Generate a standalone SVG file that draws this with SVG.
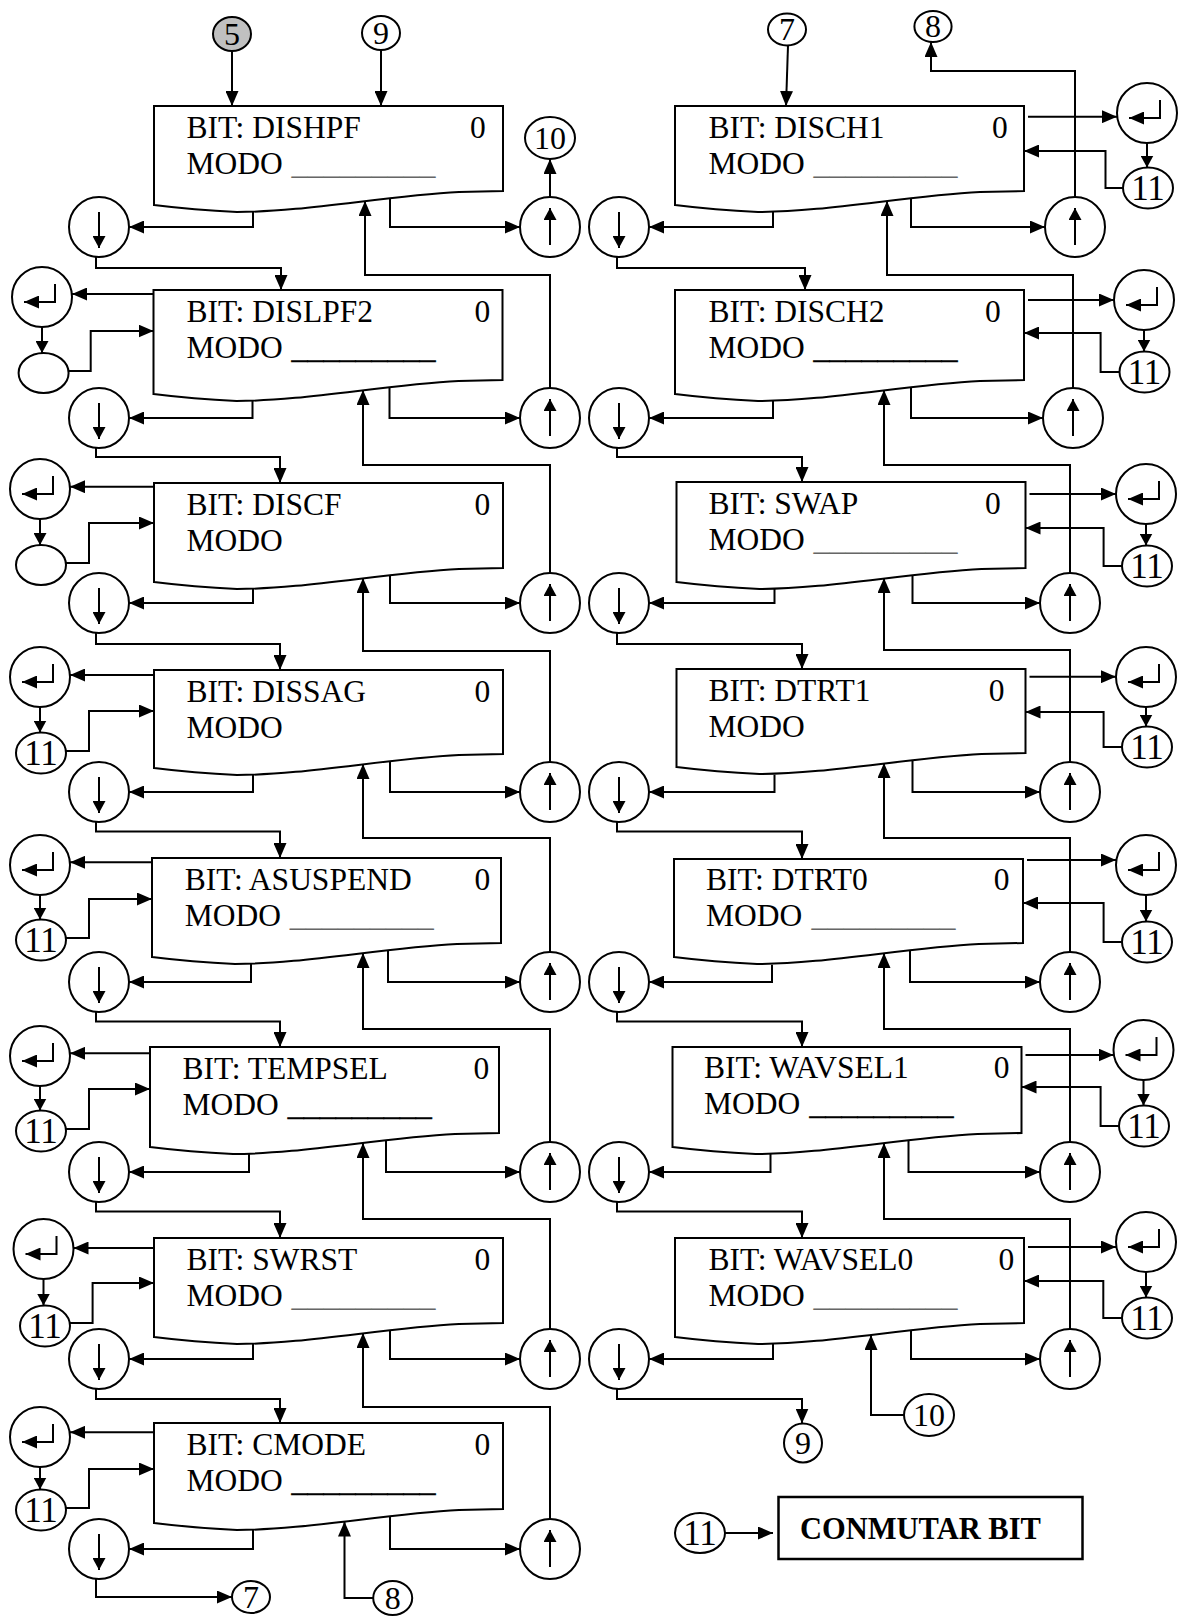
<svg xmlns="http://www.w3.org/2000/svg" width="1178" height="1617" viewBox="0 0 1178 1617">
<style>
.ln{fill:none;stroke:#000;stroke-width:2}
.a{marker-end:url(#ah)}
.as{marker-end:url(#ahs)}
.bx{fill:#fff;stroke:#000;stroke-width:2}
.ci{fill:#fff;stroke:#000;stroke-width:2}
.t{font-family:"Liberation Serif","Times New Roman",serif;font-size:31.5px;fill:#000}
.u{font-family:"Liberation Serif","Times New Roman",serif;font-size:31.5px}
.thin{fill:#666}
.thick{fill:#000;stroke:#000;stroke-width:0.5}
.n{font-family:"Liberation Serif","Times New Roman",serif;font-size:32px;text-anchor:middle;fill:#000}
.n10{font-size:32px}
.n11{font-size:35px}
.lg{font-family:"Liberation Serif","Times New Roman",serif;font-size:30.5px;font-weight:bold;fill:#000}
</style>
<defs>
<marker id="ah" viewBox="0 0 15 13" refX="15" refY="6.5" markerWidth="15" markerHeight="13" orient="auto" markerUnits="userSpaceOnUse"><path d="M0,0 L15,6.5 L0,13 Z" fill="#000"/></marker>
<marker id="ahs" viewBox="0 0 12 13" refX="12" refY="6.5" markerWidth="12" markerHeight="13" orient="auto" markerUnits="userSpaceOnUse"><path d="M0,0 L12,6.5 L0,13 Z" fill="#000"/></marker>
</defs>
<rect x="0" y="0" width="1178" height="1617" fill="#fff"/>

<g id="connectors">
<path class="ln a" d="M232,51 V106"/>
<path class="ln a" d="M381,50 V106"/>
<path class="ln a" d="M788,45.5 L786,106"/>
<path class="ln a" d="M550,197 V159"/>
<path class="ln a" d="M1075,197 V71 H931 V42"/>
<path class="ln a" d="M253,211.7 V227 H129"/>
<path class="ln a" d="M390,198 V227 H520"/>
<path class="ln a" d="M252.5,400.7 V418 H129"/>
<path class="ln a" d="M389.5,387 V418 H520"/>
<path class="ln a" d="M253,588.7 V603 H129"/>
<path class="ln a" d="M390,575 V603 H520"/>
<path class="ln a" d="M253,774.7 V792 H129"/>
<path class="ln a" d="M390,761 V792 H520"/>
<path class="ln a" d="M251,963.7 V982 H129"/>
<path class="ln a" d="M388,950 V982 H520"/>
<path class="ln a" d="M249,1153.7 V1172 H129"/>
<path class="ln a" d="M386,1140 V1172 H520"/>
<path class="ln a" d="M253,1343.7 V1359 H129"/>
<path class="ln a" d="M390,1330 V1359 H520"/>
<path class="ln a" d="M253,1529.7 V1549 H129"/>
<path class="ln a" d="M390,1516 V1549 H520"/>
<path class="ln a" d="M96,257 V268 H281 V290"/>
<path class="ln a" d="M96,448 V457 H280 V483"/>
<path class="ln a" d="M96,633 V644 H280 V670"/>
<path class="ln a" d="M96,822 V831.5 H280 V858"/>
<path class="ln a" d="M96,1012 V1021.5 H280 V1047"/>
<path class="ln a" d="M96,1202 V1211.5 H280 V1238"/>
<path class="ln a" d="M96,1389 V1399 H280 V1423"/>
<path class="ln a" d="M96,1579 V1597 H232"/>
<path class="ln a" d="M550,388 V275 H365 V201"/>
<path class="ln a" d="M550,573 V465 H363 V390"/>
<path class="ln a" d="M550,762 V651 H363 V578"/>
<path class="ln a" d="M550,952 V838 H363 V764"/>
<path class="ln a" d="M550,1142 V1029 H363 V953"/>
<path class="ln a" d="M550,1329 V1219 H363 V1143"/>
<path class="ln a" d="M550,1519 V1407 H363 V1333"/>
<path class="ln a" d="M373,1598 H344.5 V1521.5"/>
<path class="ln a" d="M153.5,294 H72"/>
<path class="ln as" d="M42,327 V353"/>
<path class="ln a" d="M68.6,371 H90.7 V331 H153.5"/>
<path class="ln a" d="M154,486.7 H70"/>
<path class="ln as" d="M40,519 V545"/>
<path class="ln a" d="M66,563 H89 V523 H154"/>
<path class="ln a" d="M154,675 H70"/>
<path class="ln as" d="M40,707 V732.5"/>
<path class="ln a" d="M66,751 H89 V711 H154"/>
<path class="ln a" d="M152,862.3 H70"/>
<path class="ln as" d="M40,895 V919.5"/>
<path class="ln a" d="M66,938 H89 V899 H152"/>
<path class="ln a" d="M150,1053.3 H70"/>
<path class="ln as" d="M40,1086 V1110.5"/>
<path class="ln a" d="M66,1129 H89 V1089 H150"/>
<path class="ln a" d="M154,1248 H73.5"/>
<path class="ln as" d="M43.5,1279 V1305.5"/>
<path class="ln a" d="M70,1323 H92.6 V1283 H154"/>
<path class="ln a" d="M154,1432.3 H70"/>
<path class="ln as" d="M40,1467 V1489.5"/>
<path class="ln a" d="M66,1508 H89 V1469 H154"/>
<path class="ln a" d="M773,211.7 V227 H649"/>
<path class="ln a" d="M911,198 V227 H1045"/>
<path class="ln a" d="M773,400.7 V418 H649"/>
<path class="ln a" d="M911,387 V418 H1043"/>
<path class="ln a" d="M774.5,588.7 V603 H649"/>
<path class="ln a" d="M912.5,575 V603 H1040"/>
<path class="ln a" d="M774.5,774.7 V792 H649"/>
<path class="ln a" d="M912.5,760 V792 H1040"/>
<path class="ln a" d="M772,964.7 V982 H649"/>
<path class="ln a" d="M910,950 V982 H1040"/>
<path class="ln a" d="M770.5,1153.7 V1172 H649"/>
<path class="ln a" d="M908.5,1140 V1172 H1040"/>
<path class="ln a" d="M773,1343.7 V1359 H649"/>
<path class="ln a" d="M911,1330 V1359 H1040"/>
<path class="ln a" d="M617,257 V268 H805 V290"/>
<path class="ln a" d="M617,448 V457 H802 V482"/>
<path class="ln a" d="M617,633 V644 H802 V669"/>
<path class="ln a" d="M617,822 V831.5 H802 V859"/>
<path class="ln a" d="M617,1012 V1021.5 H802 V1047"/>
<path class="ln a" d="M617,1202 V1211.5 H802 V1238"/>
<path class="ln a" d="M617,1389 V1399 H802 V1423.5"/>
<path class="ln a" d="M1073,388 V275 H887 V201"/>
<path class="ln a" d="M1070,573 V465 H884 V390"/>
<path class="ln a" d="M1070,762 V650 H884 V578"/>
<path class="ln a" d="M1070,952 V838 H884 V763"/>
<path class="ln a" d="M1070,1142 V1029 H884 V953"/>
<path class="ln a" d="M1070,1329 V1219 H884 V1143"/>
<path class="ln a" d="M904,1415 H871 V1335"/>
<path class="ln a" d="M1028,116.7 H1117"/>
<path class="ln as" d="M1147,143 V167.5"/>
<path class="ln a" d="M1123,188 H1105.5 V151 H1024"/>
<path class="ln a" d="M1028,300 H1114"/>
<path class="ln as" d="M1144,330 V351.5"/>
<path class="ln a" d="M1119.5,372 H1100.6 V333 H1024"/>
<path class="ln a" d="M1029.5,494 H1116"/>
<path class="ln as" d="M1146,524 V545.5"/>
<path class="ln a" d="M1122,566 H1103.6 V528 H1025.5"/>
<path class="ln a" d="M1029.5,676.7 H1116"/>
<path class="ln as" d="M1146,707 V726.5"/>
<path class="ln a" d="M1122,747 H1103.6 V712 H1025.5"/>
<path class="ln a" d="M1027,860 H1116"/>
<path class="ln as" d="M1146,895 V921.5"/>
<path class="ln a" d="M1122,942 H1103.6 V903 H1023"/>
<path class="ln a" d="M1025.5,1055 H1113.5"/>
<path class="ln as" d="M1143.5,1080 V1105.5"/>
<path class="ln a" d="M1119,1126 H1100.6 V1087 H1021.5"/>
<path class="ln a" d="M1028,1247 H1116"/>
<path class="ln as" d="M1146,1272 V1297.5"/>
<path class="ln a" d="M1122,1318 H1103.3 V1281 H1024"/>
<path class="ln a" d="M725,1533 H773"/>
</g>

<g id="box-dishpf">
<path class="bx" d="M154,106 H503 V191 L459,192 C384,196 304,212 237,212 Q194,210 154,205 Z"/>
<text class="t" x="186.4" y="138">BIT: DISHPF</text><text class="t" x="470" y="138">0</text>
<text class="t" x="186.4" y="174">MODO</text><text class="u thin" x="291.6" y="174" textLength="144" lengthAdjust="spacingAndGlyphs">_________</text>
</g>
<g id="box-dislpf2">
<path class="bx" d="M153.5,290 H502.5 V380 L458.5,381 C383.5,385 303.5,401 236.5,401 Q193.5,399 153.5,394 Z"/>
<text class="t" x="186.4" y="322">BIT: DISLPF2</text><text class="t" x="474.5" y="322">0</text>
<text class="t" x="186.4" y="358">MODO</text><text class="u thick" x="291.6" y="358" textLength="144" lengthAdjust="spacingAndGlyphs">_________</text>
</g>
<g id="box-discf">
<path class="bx" d="M154,483 H503 V568 L459,569 C384,573 304,589 237,589 Q194,587 154,582 Z"/>
<text class="t" x="186.4" y="515">BIT: DISCF</text><text class="t" x="474.5" y="515">0</text>
<text class="t" x="186.4" y="551">MODO</text>
</g>
<g id="box-dissag">
<path class="bx" d="M154,670 H503 V754 L459,755 C384,759 304,775 237,775 Q194,773 154,768 Z"/>
<text class="t" x="186.4" y="702">BIT: DISSAG</text><text class="t" x="474.5" y="702">0</text>
<text class="t" x="186.4" y="738">MODO</text>
</g>
<g id="box-asuspend">
<path class="bx" d="M152,858 H501 V943 L457,944 C382,948 302,964 235,964 Q192,962 152,957 Z"/>
<text class="t" x="184.8" y="890">BIT: ASUSPEND</text><text class="t" x="474.5" y="890">0</text>
<text class="t" x="184.8" y="926">MODO</text><text class="u thin" x="289.7" y="926" textLength="144" lengthAdjust="spacingAndGlyphs">_________</text>
</g>
<g id="box-tempsel">
<path class="bx" d="M150,1047 H499 V1133 L455,1134 C380,1138 300,1154 233,1154 Q190,1152 150,1147 Z"/>
<text class="t" x="182.5" y="1079">BIT: TEMPSEL</text><text class="t" x="473.4" y="1079">0</text>
<text class="t" x="182.5" y="1115">MODO</text><text class="u thick" x="287.8" y="1115" textLength="144" lengthAdjust="spacingAndGlyphs">_________</text>
</g>
<g id="box-swrst">
<path class="bx" d="M154,1238 H503 V1323 L459,1324 C384,1328 304,1344 237,1344 Q194,1342 154,1337 Z"/>
<text class="t" x="186.4" y="1270">BIT: SWRST</text><text class="t" x="474.5" y="1270">0</text>
<text class="t" x="186.4" y="1306">MODO</text><text class="u thin" x="291.6" y="1306" textLength="144" lengthAdjust="spacingAndGlyphs">_________</text>
</g>
<g id="box-cmode">
<path class="bx" d="M154,1423 H503 V1509 L459,1510 C384,1514 304,1530 237,1530 Q194,1528 154,1523 Z"/>
<text class="t" x="186.4" y="1455">BIT: CMODE</text><text class="t" x="474.5" y="1455">0</text>
<text class="t" x="186.4" y="1491">MODO</text><text class="u thick" x="291.6" y="1491" textLength="144" lengthAdjust="spacingAndGlyphs">_________</text>
</g>

<g id="box-disch1">
<path class="bx" d="M675,106 H1024 V191 L980,192 C905,196 825,212 758,212 Q715,210 675,205 Z"/>
<text class="t" x="708.5" y="138">BIT: DISCH1</text><text class="t" x="991.9" y="138">0</text>
<text class="t" x="708.5" y="174">MODO</text><text class="u thin" x="813.4" y="174" textLength="144" lengthAdjust="spacingAndGlyphs">_________</text>
</g>
<g id="box-disch2">
<path class="bx" d="M675,290 H1024 V380 L980,381 C905,385 825,401 758,401 Q715,399 675,394 Z"/>
<text class="t" x="708.5" y="322">BIT: DISCH2</text><text class="t" x="985" y="322">0</text>
<text class="t" x="708.5" y="358">MODO</text><text class="u thick" x="813.4" y="358" textLength="144" lengthAdjust="spacingAndGlyphs">_________</text>
</g>
<g id="box-swap">
<path class="bx" d="M676.5,482 H1025.5 V568 L981.5,569 C906.5,573 826.5,589 759.5,589 Q716.5,587 676.5,582 Z"/>
<text class="t" x="708.5" y="514">BIT: SWAP</text><text class="t" x="985" y="514">0</text>
<text class="t" x="708.5" y="550">MODO</text><text class="u thin" x="813.4" y="550" textLength="144" lengthAdjust="spacingAndGlyphs">_________</text>
</g>
<g id="box-dtrt1">
<path class="bx" d="M676.5,669 H1025.5 V753 L981.5,754 C906.5,758 826.5,774 759.5,774 Q716.5,772 676.5,767 Z"/>
<text class="t" x="708.5" y="701">BIT: DTRT1</text><text class="t" x="988.8" y="701">0</text>
<text class="t" x="708.5" y="737">MODO</text>
</g>
<g id="box-dtrt0">
<path class="bx" d="M674,859 H1023 V943 L979,944 C904,948 824,964 757,964 Q714,962 674,957 Z"/>
<text class="t" x="705.9" y="890">BIT: DTRT0</text><text class="t" x="993.8" y="890">0</text>
<text class="t" x="705.9" y="926">MODO</text><text class="u thin" x="811.5" y="926" textLength="144" lengthAdjust="spacingAndGlyphs">_________</text>
</g>
<g id="box-wavsel1">
<path class="bx" d="M672.5,1047 H1021.5 V1133 L977.5,1134 C902.5,1138 822.5,1154 755.5,1154 Q712.5,1152 672.5,1147 Z"/>
<text class="t" x="704" y="1078">BIT: WAVSEL1</text><text class="t" x="993.8" y="1078">0</text>
<text class="t" x="704" y="1114">MODO</text><text class="u thick" x="809.6" y="1114" textLength="144" lengthAdjust="spacingAndGlyphs">_________</text>
</g>
<g id="box-wavsel0">
<path class="bx" d="M675,1238 H1024 V1323 L980,1324 C905,1328 825,1344 758,1344 Q715,1342 675,1337 Z"/>
<text class="t" x="708.5" y="1270">BIT: WAVSEL0</text><text class="t" x="998.4" y="1270">0</text>
<text class="t" x="708.5" y="1306">MODO</text><text class="u thin" x="813.4" y="1306" textLength="144" lengthAdjust="spacingAndGlyphs">_________</text>
</g>

<g id="c5"><ellipse cx="232" cy="34" rx="19" ry="17" fill="#c0c0c0" stroke="#000" stroke-width="2"/><text class="n" x="232" y="44.8">5</text></g>
<g id="c9-top"><ellipse class="ci" cx="381" cy="33" rx="19" ry="17"/><text class="n" x="381" y="43.8">9</text></g>
<g id="c10-top"><ellipse class="ci" cx="550" cy="138" rx="25" ry="21"/><text class="n n10" x="550" y="148.8">10</text></g>
<g id="c7-top"><ellipse class="ci" cx="787" cy="29.5" rx="19" ry="16"/><text class="n" x="787" y="40.3">7</text></g>
<g id="c8-top"><ellipse class="ci" cx="933" cy="26.5" rx="18.6" ry="15.5"/><text class="n" x="933" y="37.3">8</text></g>
<g id="c7-bottom"><ellipse class="ci" cx="251" cy="1597" rx="19" ry="16"/><text class="n" x="251" y="1607.8">7</text></g>
<g id="c8-bottom"><ellipse class="ci" cx="392.7" cy="1598" rx="19.5" ry="17"/><text class="n" x="392.7" y="1608.8">8</text></g>
<g id="c9-bottom"><ellipse class="ci" cx="803" cy="1443" rx="19" ry="19.5"/><text class="n" x="803" y="1453.8">9</text></g>
<g id="c10-bottom"><ellipse class="ci" cx="929" cy="1415" rx="25" ry="21"/><text class="n n10" x="929" y="1425.8">10</text></g>

<g id="down-l1"><circle class="ci" cx="99" cy="227" r="30"/><path class="ln as" d="M99,212 V248"/></g>
<g id="down-l2"><circle class="ci" cx="99" cy="418" r="30"/><path class="ln as" d="M99,403 V439"/></g>
<g id="down-l3"><circle class="ci" cx="99" cy="603" r="30"/><path class="ln as" d="M99,588 V624"/></g>
<g id="down-l4"><circle class="ci" cx="99" cy="792" r="30"/><path class="ln as" d="M99,777 V813"/></g>
<g id="down-l5"><circle class="ci" cx="99" cy="982" r="30"/><path class="ln as" d="M99,967 V1003"/></g>
<g id="down-l6"><circle class="ci" cx="99" cy="1172" r="30"/><path class="ln as" d="M99,1157 V1193"/></g>
<g id="down-l7"><circle class="ci" cx="99" cy="1359" r="30"/><path class="ln as" d="M99,1344 V1380"/></g>
<g id="down-l8"><circle class="ci" cx="99" cy="1549" r="30"/><path class="ln as" d="M99,1534 V1570"/></g>
<g id="up-l1"><circle class="ci" cx="550" cy="227" r="30"/><path class="ln as" d="M550,245 V208"/></g>
<g id="up-l2"><circle class="ci" cx="550" cy="418" r="30"/><path class="ln as" d="M550,436 V399"/></g>
<g id="up-l3"><circle class="ci" cx="550" cy="603" r="30"/><path class="ln as" d="M550,621 V584"/></g>
<g id="up-l4"><circle class="ci" cx="550" cy="792" r="30"/><path class="ln as" d="M550,810 V773"/></g>
<g id="up-l5"><circle class="ci" cx="550" cy="982" r="30"/><path class="ln as" d="M550,1000 V963"/></g>
<g id="up-l6"><circle class="ci" cx="550" cy="1172" r="30"/><path class="ln as" d="M550,1190 V1153"/></g>
<g id="up-l7"><circle class="ci" cx="550" cy="1359" r="30"/><path class="ln as" d="M550,1377 V1340"/></g>
<g id="up-l8"><circle class="ci" cx="550" cy="1549" r="30"/><path class="ln as" d="M550,1567 V1530"/></g>
<g id="down-r1"><circle class="ci" cx="619" cy="227" r="30"/><path class="ln as" d="M619,212 V248"/></g>
<g id="down-r2"><circle class="ci" cx="619" cy="418" r="30"/><path class="ln as" d="M619,403 V439"/></g>
<g id="down-r3"><circle class="ci" cx="619" cy="603" r="30"/><path class="ln as" d="M619,588 V624"/></g>
<g id="down-r4"><circle class="ci" cx="619" cy="792" r="30"/><path class="ln as" d="M619,777 V813"/></g>
<g id="down-r5"><circle class="ci" cx="619" cy="982" r="30"/><path class="ln as" d="M619,967 V1003"/></g>
<g id="down-r6"><circle class="ci" cx="619" cy="1172" r="30"/><path class="ln as" d="M619,1157 V1193"/></g>
<g id="down-r7"><circle class="ci" cx="619" cy="1359" r="30"/><path class="ln as" d="M619,1344 V1380"/></g>
<g id="up-r1"><circle class="ci" cx="1075" cy="227" r="30"/><path class="ln as" d="M1075,245 V208"/></g>
<g id="up-r2"><circle class="ci" cx="1073" cy="418" r="30"/><path class="ln as" d="M1073,436 V399"/></g>
<g id="up-r3"><circle class="ci" cx="1070" cy="603" r="30"/><path class="ln as" d="M1070,621 V584"/></g>
<g id="up-r4"><circle class="ci" cx="1070" cy="792" r="30"/><path class="ln as" d="M1070,810 V773"/></g>
<g id="up-r5"><circle class="ci" cx="1070" cy="982" r="30"/><path class="ln as" d="M1070,1000 V963"/></g>
<g id="up-r6"><circle class="ci" cx="1070" cy="1172" r="30"/><path class="ln as" d="M1070,1190 V1153"/></g>
<g id="up-r7"><circle class="ci" cx="1070" cy="1359" r="30"/><path class="ln as" d="M1070,1377 V1340"/></g>

<g id="enter-l2"><circle class="ci" cx="42" cy="297" r="30"/><path class="ln a" d="M55,284 V302 H24"/></g>
<g id="enter-l3"><circle class="ci" cx="40" cy="489" r="30"/><path class="ln a" d="M53,476 V494 H22"/></g>
<g id="enter-l4"><circle class="ci" cx="40" cy="677" r="30"/><path class="ln a" d="M53,664 V682 H22"/></g>
<g id="enter-l5"><circle class="ci" cx="40" cy="865" r="30"/><path class="ln a" d="M53,852 V870 H22"/></g>
<g id="enter-l6"><circle class="ci" cx="40" cy="1056" r="30"/><path class="ln a" d="M53,1043 V1061 H22"/></g>
<g id="enter-l7"><circle class="ci" cx="43.5" cy="1249" r="30"/><path class="ln a" d="M56.5,1236 V1254 H25.5"/></g>
<g id="enter-l8"><circle class="ci" cx="40" cy="1437" r="30"/><path class="ln a" d="M53,1424 V1442 H22"/></g>
<g id="empty-l2"><ellipse class="ci" cx="43.6" cy="373" rx="25" ry="20"/></g>
<g id="empty-l3"><ellipse class="ci" cx="41" cy="565" rx="25" ry="20"/></g>
<g id="c11-l4"><ellipse class="ci" cx="41" cy="753" rx="25" ry="20.5"/><text class="n n11" x="41" y="764.8">11</text></g>
<g id="c11-l5"><ellipse class="ci" cx="41" cy="940" rx="25" ry="20.5"/><text class="n n11" x="41" y="951.8">11</text></g>
<g id="c11-l6"><ellipse class="ci" cx="41" cy="1131" rx="25" ry="20.5"/><text class="n n11" x="41" y="1142.8">11</text></g>
<g id="c11-l7"><ellipse class="ci" cx="45" cy="1326" rx="25" ry="20.5"/><text class="n n11" x="45" y="1337.8">11</text></g>
<g id="c11-l8"><ellipse class="ci" cx="41" cy="1510" rx="25" ry="20.5"/><text class="n n11" x="41" y="1521.8">11</text></g>

<g id="enter-r1"><circle class="ci" cx="1147" cy="113" r="30"/><path class="ln a" d="M1160,100 V118 H1129"/></g>
<g id="enter-r2"><circle class="ci" cx="1144" cy="300" r="30"/><path class="ln a" d="M1157,287 V305 H1126"/></g>
<g id="enter-r3"><circle class="ci" cx="1146" cy="494" r="30"/><path class="ln a" d="M1159,481 V499 H1128"/></g>
<g id="enter-r4"><circle class="ci" cx="1146" cy="677" r="30"/><path class="ln a" d="M1159,664 V682 H1128"/></g>
<g id="enter-r5"><circle class="ci" cx="1146" cy="865" r="30"/><path class="ln a" d="M1159,852 V870 H1128"/></g>
<g id="enter-r6"><circle class="ci" cx="1143.5" cy="1050" r="30"/><path class="ln a" d="M1156.5,1037 V1055 H1125.5"/></g>
<g id="enter-r7"><circle class="ci" cx="1146" cy="1242" r="30"/><path class="ln a" d="M1159,1229 V1247 H1128"/></g>
<g id="c11-r1"><ellipse class="ci" cx="1148" cy="188" rx="25" ry="20.5"/><text class="n n11" x="1148" y="199.8">11</text></g>
<g id="c11-r2"><ellipse class="ci" cx="1144.5" cy="372" rx="25" ry="20.5"/><text class="n n11" x="1144.5" y="383.8">11</text></g>
<g id="c11-r3"><ellipse class="ci" cx="1147" cy="566" rx="25" ry="20.5"/><text class="n n11" x="1147" y="577.8">11</text></g>
<g id="c11-r4"><ellipse class="ci" cx="1147" cy="747" rx="25" ry="20.5"/><text class="n n11" x="1147" y="758.8">11</text></g>
<g id="c11-r5"><ellipse class="ci" cx="1147" cy="942" rx="25" ry="20.5"/><text class="n n11" x="1147" y="953.8">11</text></g>
<g id="c11-r6"><ellipse class="ci" cx="1144" cy="1126" rx="25" ry="20.5"/><text class="n n11" x="1144" y="1137.8">11</text></g>
<g id="c11-r7"><ellipse class="ci" cx="1147" cy="1318" rx="25" ry="20.5"/><text class="n n11" x="1147" y="1329.8">11</text></g>

<g id="c11-legend"><ellipse class="ci" cx="700" cy="1533" rx="25" ry="20"/><text class="n n11" x="700" y="1544.8">11</text></g>
<g id="legend-box"><rect x="778.5" y="1497" width="304" height="62" fill="#fff" stroke="#000" stroke-width="2.5"/><text class="lg" x="800" y="1539">CONMUTAR BIT</text></g>
</svg>
